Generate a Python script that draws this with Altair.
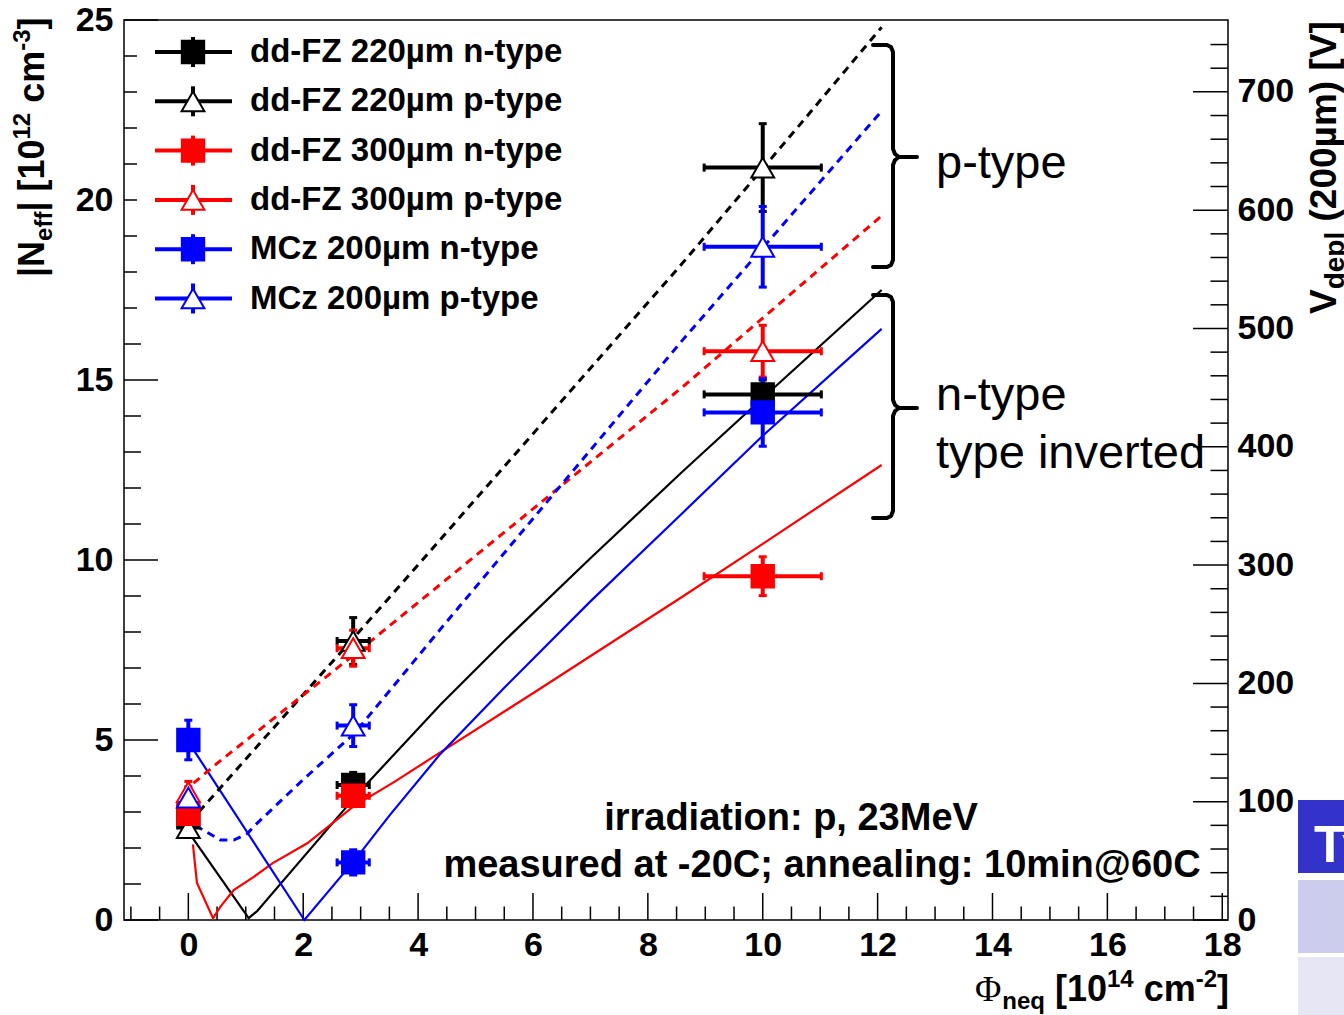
import altair as alt
import pandas as pd

FONT = "Liberation Sans"
SERIF = "Liberation Serif"

# ---------------- chart values ----------------
series_names = ["dd-FZ 220µm n-type", "dd-FZ 220µm p-type", "dd-FZ 300µm n-type",
                "dd-FZ 300µm p-type", "MCz 200µm n-type", "MCz 200µm p-type"]
series_colors = ["#000000", "#000000", "#ff0000", "#ff0000", "#0000ff", "#0000ff"]
series_shapes = ["square", "triangle-up", "square", "triangle-up", "square", "triangle-up"]

fluence = [0.0, 2.87, 10.0]
fluence_err = [0.0, 0.28, 1.02]

neff_fz220_n = [2.85, 3.75, 14.6]
err_fz220_n = [0.25, 0.35, 0.4]
neff_fz220_p = [2.55, 7.75, 20.9]
err_fz220_p = [0.25, 0.65, 1.22]
neff_fz300_n = [2.95, 3.45, 9.55]
err_fz300_n = [0.3, 0.3, 0.54]
neff_fz300_p = [3.55, 7.55, 15.8]
err_fz300_p = [0.3, 0.5, 0.72]
neff_mcz_n = [5.0, 1.6, 14.1]
err_mcz_n = [0.55, 0.35, 0.94]
neff_mcz_p = [3.4, 5.4, 18.7]
err_mcz_p = [0.3, 0.58, 1.12]

# fitted / model curves (solid = n-type, dashed = p-type)
fit_fz220_n_x = [0.0, 1.05, 1.2, 3.0, 4.4, 5.5, 7.0, 8.6, 10.0, 12.07]
fit_fz220_n_y = [2.45, 0.05, 0.25, 3.6, 6.0, 7.75, 10.05, 12.45, 14.5, 17.5]
fit_fz220_p_x = [0.0, 0.21, 3.47, 8.6, 10.64, 12.07]
fit_fz220_p_y = [2.75, 3.05, 8.9, 18.24, 22.08, 24.8]
fit_fz300_n_x = [0.08, 0.15, 0.43, 0.56, 0.79, 1.14, 1.47, 2.07, 2.87, 3.6, 4.4, 6.0, 8.6, 10.0, 12.07]
fit_fz300_n_y = [2.1, 1.03, 0.05, 0.37, 0.83, 1.2, 1.58, 2.13, 3.15, 3.85, 4.67, 6.3, 8.98, 10.45, 12.64]
fit_fz300_p_x = [0.09, 0.5, 2.87, 8.6, 12.07]
fit_fz300_p_y = [3.8, 4.35, 7.35, 14.8, 19.56]
fit_mcz_n_x = [0.0, 2.02, 2.9, 3.5, 4.38, 5.5, 7.0, 8.6, 10.0, 12.07]
fit_mcz_n_y = [4.95, 0.0, 1.67, 2.9, 4.6, 6.45, 8.85, 11.3, 13.45, 16.42]
fit_mcz_p_x = [0.0, 0.15, 0.56, 0.79, 1.03, 1.14, 2.0, 2.9, 4.4, 8.6, 12.07]
fit_mcz_p_y = [2.97, 2.6, 2.22, 2.22, 2.4, 2.6, 3.9, 5.2, 8.1, 16.1, 22.47]

x_label_values = [0, 2, 4, 6, 8, 10, 12, 14, 16, 18]
y_label_values = [0, 5, 10, 15, 20, 25]
v_label_values = [0, 100, 200, 300, 400, 500, 600, 700]

annot_ptype = "p-type"
annot_ntype = ["n-type", "type inverted"]
annot_info = ["irradiation: p, 23MeV", "measured at -20C; annealing: 10min@60C"]

# ---------------- layout ----------------
X_MIN, X_MAX = -1.12, 18.1
Y_MAX = 25.0
V_PER_NEFF = 30.43
V_MAX = Y_MAX * V_PER_NEFF
W, H = 1104, 900
PAD = {"left": 124, "top": 20, "right": 116, "bottom": 95}
PXX = W / (X_MAX - X_MIN)
PXY = H / Y_MAX


def px2x(px):
    return X_MIN + (px - PAD["left"]) / PXX


def px2y(py):
    return (PAD["top"] + H - py) / PXY


XS = alt.Scale(domain=[X_MIN, X_MAX], nice=False, zero=False)
YS = alt.Scale(domain=[0, Y_MAX], nice=False, zero=False)
XAXIS = alt.Axis(values=x_label_values, ticks=False, domain=False, grid=False, title=None,
                 labelFont=FONT, labelFontSize=34, labelFontWeight="bold", labelColor="black",
                 labelPadding=8, labelFlush=False, labelOverlap=False, labelBound=False)
YAXIS = alt.Axis(values=y_label_values, ticks=False, domain=False, grid=False, title=None,
                 labelFont=FONT, labelFontSize=34, labelFontWeight="bold", labelColor="black",
                 labelPadding=11, labelFlush=False, labelOverlap=False, labelBound=False)


def X(f):
    return alt.X(f, type="quantitative", scale=XS, axis=XAXIS)


def Y(f):
    return alt.Y(f, type="quantitative", scale=YS, axis=YAXIS)


series_y = [neff_fz220_n, neff_fz220_p, neff_fz300_n, neff_fz300_p, neff_mcz_n, neff_mcz_p]
series_e = [err_fz220_n, err_fz220_p, err_fz300_n, err_fz300_p, err_mcz_n, err_mcz_p]
fits = [(fit_fz220_n_x, fit_fz220_n_y, 0), (fit_fz220_p_x, fit_fz220_p_y, 1),
        (fit_fz300_n_x, fit_fz300_n_y, 0), (fit_fz300_p_x, fit_fz300_p_y, 1),
        (fit_mcz_n_x, fit_mcz_n_y, 0), (fit_mcz_p_x, fit_mcz_p_y, 1)]

# ---------------- segment tables ----------------
tick_rows, err_rows, leg_rows = [], [], []


def seg(rows, x1, y1, x2, y2, color="#000000", w=1.5):
    rows.append(dict(x=x1, y=y1, x2=x2, y2=y2, color=color, w=w))


for k in range(0, 26):
    L = 34 if k % 5 == 0 else 17
    seg(tick_rows, X_MIN, k, X_MIN + L / PXX, k)
for j in range(0, 39):
    v = -1.0 + 0.5 * j
    major = abs(v / 2 - round(v / 2)) < 1e-9
    L = 27 if major else 13.5
    seg(tick_rows, v, 0, v, L / PXY)
for vv in range(0, 760, 20):
    L = 35 if vv % 100 == 0 else 17.5
    seg(tick_rows, X_MAX - L / PXX, vv / V_PER_NEFF, X_MAX, vv / V_PER_NEFF)

cy, cx = 4 / PXY, 4 / PXX
pt_rows = []
for s in range(6):
    col = series_colors[s]
    for i in range(3):
        x, y = fluence[i], series_y[s][i]
        xe, ye = fluence_err[i], series_e[s][i]
        if xe > 0:
            seg(err_rows, x - xe, y, x + xe, y, col, 4)
            seg(err_rows, x - xe, y - cy, x - xe, y + cy, col, 3)
            seg(err_rows, x + xe, y - cy, x + xe, y + cy, col, 3)
        seg(err_rows, x, y - ye, x, y + ye, col, 4)
        seg(err_rows, x - cx, y - ye, x + cx, y - ye, col, 3)
        seg(err_rows, x - cx, y + ye, x + cx, y + ye, col, 3)
        sq = series_shapes[s] == "square"
        pt_rows.append(dict(x=x, y=y, shape=series_shapes[s], fill=col if sq else "#ffffff",
                            stroke=col, sz=500 if sq else 520))

leg_pts, leg_txt = [], []
for s in range(6):
    col = series_colors[s]
    yr = px2y(52 + 49.3 * s)
    seg(leg_rows, px2x(155), yr, px2x(232), yr, col, 4)
    seg(leg_rows, px2x(193), yr - 15 / PXY, px2x(193), yr + 15 / PXY, col, 4)
    sq = series_shapes[s] == "square"
    leg_pts.append(dict(x=px2x(193), y=yr, shape=series_shapes[s], fill=col if sq else "#ffffff",
                        stroke=col, sz=500 if sq else 520))
    leg_txt.append(dict(x=px2x(250), y=yr, t=series_names[s]))

line_rows = []
for s, (fx, fy, dashed) in enumerate(fits):
    for i, (a, b) in enumerate(zip(fx, fy)):
        line_rows.append(dict(name=series_names[s], x=a, y=b, i=i, color=series_colors[s], dashed=dashed))
lines_df = pd.DataFrame(line_rows)

# braces
brace_rows = []
for b, (t, m, bt) in enumerate([(45, 157, 267), (295, 408, 518)]):
    path = [(873, t), (887, t), (891, t + 2), (893, t + 7), (893, m - 8), (895, m - 3), (899, m),
            (917, m), (899, m), (895, m + 3), (893, m + 8), (893, bt - 7), (891, bt - 2),
            (887, bt), (873, bt)]
    for i, (px, py) in enumerate(path):
        brace_rows.append(dict(b=b, i=i, x=px2x(px), y=px2y(py)))


def rules(rows):
    return alt.Chart(pd.DataFrame(rows)).mark_rule().encode(
        x=X("x"), x2="x2", y=Y("y"), y2="y2",
        color=alt.Color("color:N", scale=None),
        strokeWidth=alt.StrokeWidth("w:Q", scale=None))


def points(rows):
    return alt.Chart(pd.DataFrame(rows)).mark_point(filled=True, opacity=1, strokeWidth=2).encode(
        x=X("x"), y=Y("y"),
        shape=alt.Shape("shape:N", scale=None),
        fill=alt.Fill("fill:N", scale=None),
        stroke=alt.Stroke("stroke:N", scale=None),
        size=alt.Size("sz:Q", scale=None))


ticks = rules(tick_rows)
legend_box = alt.Chart(pd.DataFrame([dict(x=px2x(137), x2=px2x(585), y=px2y(26), y2=px2y(323))])).mark_rect(
    color="white").encode(x=X("x"), x2="x2", y=Y("y"), y2="y2")

solid = alt.Chart(lines_df).transform_filter("datum.dashed == 0").mark_line(strokeWidth=2.2).encode(
    x=X("x"), y=Y("y"), detail="name:N", order="i:Q", color=alt.Color("color:N", scale=None))
dashed = alt.Chart(lines_df).transform_filter("datum.dashed == 1").mark_line(
    strokeWidth=3, strokeDash=[8, 6]).encode(
    x=X("x"), y=Y("y"), detail="name:N", order="i:Q", color=alt.Color("color:N", scale=None))

errbars = rules(err_rows)
markers = points(pt_rows)
leg_lines = rules(leg_rows)
leg_markers = points(leg_pts)
leg_text = alt.Chart(pd.DataFrame(leg_txt)).mark_text(
    align="left", baseline="middle", font=FONT, fontSize=33, fontWeight="bold", color="black").encode(
    x=X("x"), y=Y("y"), text="t:N")

braces = alt.Chart(pd.DataFrame(brace_rows)).mark_line(
    strokeWidth=4, color="black", strokeJoin="round", strokeCap="round").encode(
    x=X("x"), y=Y("y"), detail="b:N", order="i:Q")

ann_reg = alt.Chart(pd.DataFrame([
    dict(x=px2x(936), y=px2y(178), t=annot_ptype),
    dict(x=px2x(936), y=px2y(410), t=annot_ntype[0]),
    dict(x=px2x(936), y=px2y(468), t=annot_ntype[1]),
])).mark_text(align="left", baseline="alphabetic", font=FONT, fontSize=47, color="black").encode(
    x=X("x"), y=Y("y"), text="t:N")
ann_bold = alt.Chart(pd.DataFrame([
    dict(x=px2x(791), y=px2y(830), t=annot_info[0]),
    dict(x=px2x(822), y=px2y(877), t=annot_info[1]),
])).mark_text(align="center", baseline="alphabetic", font=FONT, fontSize=38, fontWeight="bold",
              color="black").encode(x=X("x"), y=Y("y"), text="t:N")

# ---------------- axis titles (rich text pieces) ----------------
WB = {" ": 278, "|": 280, "N": 722, "e": 556, "f": 333, "[": 333, "]": 333, "0": 556, "1": 556,
      "2": 556, "3": 556, "4": 556, "c": 556, "m": 889, "-": 333, "V": 667, "d": 611, "p": 611,
      "l": 278, "(": 333, ")": 333, "µ": 611, "n": 611, "q": 611, "Φ": 760}


def tw(t, size):
    return sum(WB.get(c, 556) for c in t) * size / 1000.0


def piece(t, px, py, size, angle=0, font=FONT, weight="bold"):
    return alt.Chart(pd.DataFrame({"t": [t]})).mark_text(
        align="left", baseline="alphabetic", angle=angle, font=font, fontSize=size,
        fontWeight=weight, color="black").encode(
        x=alt.value(px - PAD["left"]), y=alt.value(py - PAD["top"]), text="t:N")


def rich(parts, start, base, F, S, vertical=False, sub=8, sup=14):
    out, pos = [], start
    step = -1 if vertical else 1
    for t, kind in parts:
        size = F if kind in ("n", "phi") else S
        font = SERIF if kind == "phi" else FONT
        weight = "normal" if kind == "phi" else "bold"
        off = sub if kind == "sub" else (-sup if kind == "sup" else 0)
        lead = len(t) - len(t.lstrip(" "))
        pos += step * tw(" " * lead, size)
        t = t.lstrip(" ")
        if vertical:
            out.append(piece(t, base + off, pos, size, 270, font, weight))
        else:
            out.append(piece(t, pos, base + off, size, 0, font, weight))
        pos += step * tw(t, size)
    return out


def rich_len(parts, F, S):
    return sum(tw(t, F if k in ("n", "phi") else S) for t, k in parts)


xt_parts = [("Φ", "phi"), ("neq", "sub"), (" [10", "n"), ("14", "sup"), (" cm", "n"), ("-2", "sup"), ("]", "n")]
x_title = rich(xt_parts, 1229 - rich_len(xt_parts, 36, 24), 1001, 36, 24)
yt_parts = [("|N", "n"), ("eff", "sub"), ("| [10", "n"), ("12", "sup"), (" cm", "n"), ("-3", "sup"), ("]", "n")]
y_title = rich(yt_parts, 277, 44, 36, 24, vertical=True)
rt_parts = [("V", "n"), ("depl", "sub"), (" (200µm) [V]", "n")]
r_title = rich(rt_parts, 20 + rich_len(rt_parts, 37, 28), 1336, 37, 28, vertical=True)


# fragment of the neighbouring slide table at the right edge
def box(x1, y1, x2, y2, color):
    return alt.Chart(pd.DataFrame({"a": [0]})).mark_rect(color=color).encode(
        x=alt.value(x1 - PAD["left"]), x2=alt.value(x2 - PAD["left"]),
        y=alt.value(y1 - PAD["top"]), y2=alt.value(y2 - PAD["top"]))


table = [box(1298, 800, 1344, 873, "#3333cc"), box(1298, 880, 1344, 953, "#ccccec"),
         box(1298, 957, 1344, 1015, "#e6e6f5")]
table_txt = alt.Chart(pd.DataFrame({"t": ["Ty"]})).mark_text(
    align="left", baseline="alphabetic", font=FONT, fontSize=52, fontWeight="bold", color="white").encode(
    x=alt.value(1314 - PAD["left"]), y=alt.value(862 - PAD["top"]), text="t:N")

main = alt.layer(ticks, legend_box, solid, dashed, errbars, markers, leg_lines, leg_markers, leg_text,
                 braces, ann_reg, ann_bold, *x_title, *y_title, *r_title, *table, table_txt)

right_axis = alt.Chart(pd.DataFrame({"V": [0.0, V_MAX]})).mark_point(opacity=0).encode(
    y=alt.Y("V:Q", scale=alt.Scale(domain=[0, V_MAX], nice=False, zero=False),
            axis=alt.Axis(orient="right", values=v_label_values, ticks=False, domain=False, grid=False,
                          title=None, labelFont=FONT, labelFontSize=34, labelFontWeight="bold",
                          labelColor="black", labelPadding=9, labelFlush=False, labelOverlap=False,
                          labelBound=False)))

chart = alt.layer(main, right_axis).resolve_scale(y="independent").properties(
    width=W, height=H, padding=PAD, autosize=alt.AutoSizeParams(type="none"), background="white"
).configure_view(stroke="black", strokeWidth=1.5)

chart.save("out.html", embed_options={"renderer": "svg", "actions": False})
